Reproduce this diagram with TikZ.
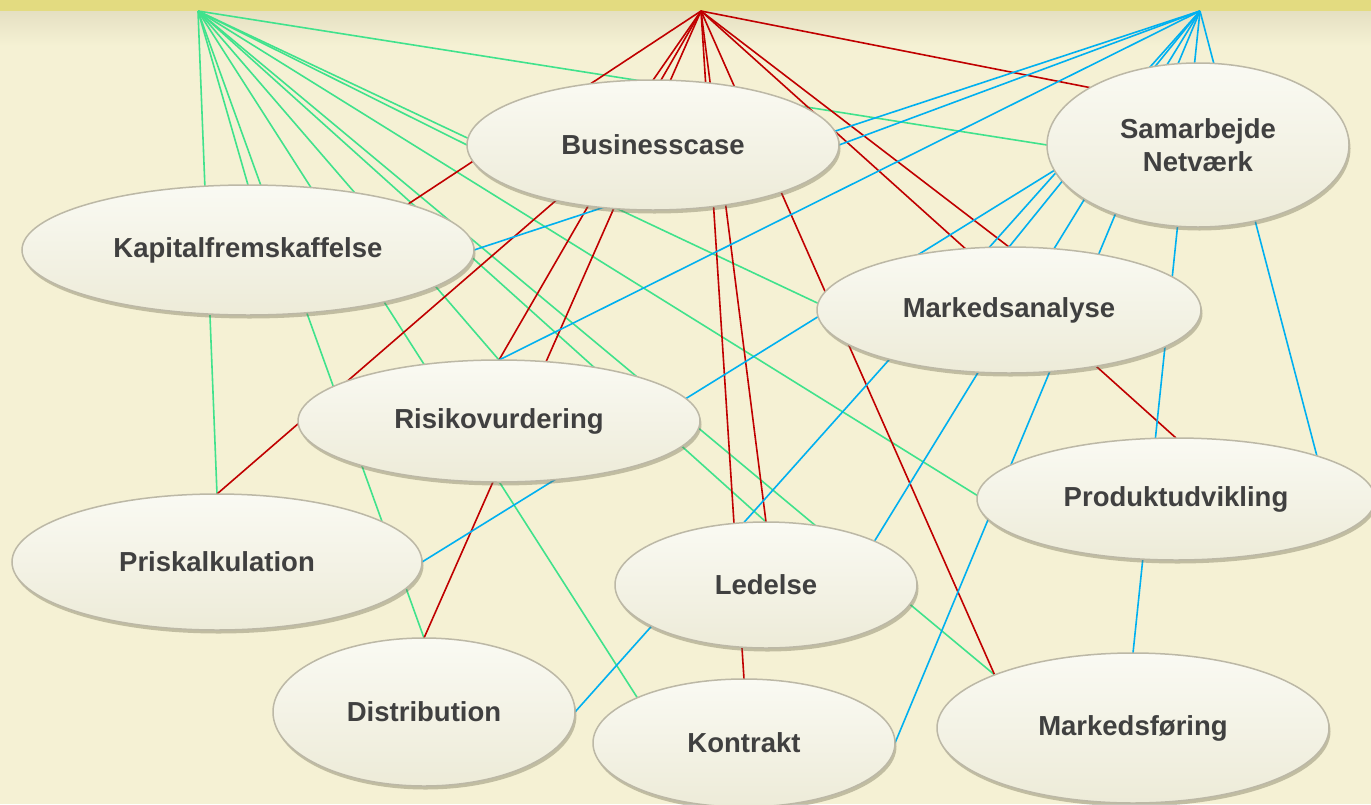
\documentclass[tikz,border=0pt]{standalone}
\usepackage{fontspec}
\setmainfont{Liberation Sans}
\usetikzlibrary{shapes.geometric,shadows}
\definecolor{bgc}{RGB}{245,241,212}
\definecolor{barc}{RGB}{227,219,128}
\definecolor{bandc}{RGB}{229,224,194}
\definecolor{gcol}{RGB}{64,226,140}
\definecolor{rcol}{RGB}{192,0,0}
\definecolor{bcol}{RGB}{0,176,240}
\definecolor{elltop}{RGB}{250,250,243}
\definecolor{ellbot}{RGB}{237,235,216}
\definecolor{ellborder}{RGB}{188,184,166}
\definecolor{shadc}{RGB}{110,105,80}
\definecolor{txtc}{RGB}{64,64,64}
\pgfdeclarelayer{bglayer}
\pgfdeclarelayer{linelayer}
\pgfsetlayers{bglayer,linelayer,main}
\tikzset{
  bubble/.style={ellipse, draw=ellborder, line width=1.5pt,
    top color=elltop, bottom color=ellbot,
    drop shadow={shadow xshift=1.5pt, shadow yshift=-3.5pt, opacity=0.38, fill=shadc},
    inner sep=0pt, outer sep=0pt, text=txtc, align=center,
    font=\bfseries\fontsize{27.5}{33}\selectfont},
  gconn/.style={draw=gcol, line width=1.6pt},
  rconn/.style={draw=rcol, line width=1.6pt},
  bconn/.style={draw=bcol, line width=1.6pt}
}
\begin{document}
\begin{tikzpicture}[x=1pt,y=-1pt]
\useasboundingbox (0,0) rectangle (1371,804);
\begin{pgfonlayer}{bglayer}
  \fill[bgc] (0,0) rectangle (1371,804);
  \shade[top color=bandc, bottom color=bgc] (0,11) rectangle (1371,46);
  \fill[barc] (0,0) rectangle (1371,11);
\end{pgfonlayer}

% hubs
\coordinate (hubG) at (198,11);
\coordinate (hubR) at (701,11);
\coordinate (hubB) at (1200,11);
\coordinate (rbend) at (590,171);

% ellipses
\node[bubble, minimum width=372pt, minimum height=130pt] (bc) at (653,145) {Businesscase};
\node[bubble, minimum width=302pt, minimum height=164pt] (sam) at (1198,145) {Samarbejde\\Netværk};
\node[bubble, minimum width=452pt, minimum height=130pt] (kap) at (248,250) {Kapitalfremskaffelse};
\node[bubble, minimum width=384pt, minimum height=126pt] (mark) at (1009,310) {Markedsanalyse};
\node[bubble, minimum width=402pt, minimum height=122pt] (ris) at (499,421) {Risikovurdering};
\node[bubble, minimum width=398pt, minimum height=122pt] (prod) at (1176,499) {Produktudvikling};
\node[bubble, minimum width=410pt, minimum height=136pt] (pris) at (217,562) {Priskalkulation};
\node[bubble, minimum width=302pt, minimum height=126pt] (led) at (766,585) {Ledelse};
\node[bubble, minimum width=302pt, minimum height=148pt] (dist) at (424,712) {Distribution};
\node[bubble, minimum width=302pt, minimum height=128pt] (kon) at (744,743) {Kontrakt};
\node[bubble, minimum width=392pt, minimum height=150pt] (mf) at (1133,728) {Markedsføring};

\begin{pgfonlayer}{linelayer}
  % green
  \draw[gconn] (hubG) -- (pris.north);
  \draw[gconn] (hubG) -- (dist.north);
  \draw[gconn] (hubG) -- (kap.north);
  \draw[gconn] (hubG) -- (kon.157);
  \draw[gconn] (hubG) -- (ris.north);
  \draw[gconn] (hubG) -- (led.north);
  \draw[gconn] (hubG) -- (mf.159);
  \draw[gconn] (hubG) -- (mark.178);
  \draw[gconn] (hubG) -- (prod.179);
  \draw[gconn] (hubG) -- (sam.west);
  \draw[gconn] (hubG) -- (bc.west);
  % red
  \draw[rconn] (hubR) -- (kap.16);
  \draw[rconn] (hubR) -- (rbend) -- (pris.north);
  \draw[rconn] (hubR) -- (ris.north);
  \draw[rconn] (hubR) -- (dist.north);
  \draw[rconn] (hubR) -- (kon.north);
  \draw[rconn] (hubR) -- (led.north);
  \draw[rconn] (hubR) -- (mf.159);
  \draw[rconn] (hubR) -- (prod.north);
  \draw[rconn] (hubR) -- (mark.north);
  \draw[rconn] (hubR) -- (sam.152);
  % blue
  \draw[bconn] (hubB) -- (ris.north);
  \draw[bconn] (hubB) -- (kap.east);
  \draw[bconn] (hubB) -- (bc.east);
  \draw[bconn] (sam.190) -- (pris.east);
  \draw[bconn] (hubB) -- (dist.east);
  \draw[bconn] (hubB) -- (mark.north);
  \draw[bconn] (hubB) -- (led.22);
  \draw[bconn] (hubB) -- (kon.east);
  \draw[bconn] (hubB) -- (mf.north);
  \draw[bconn] (hubB) -- (prod.17);
\end{pgfonlayer}
\end{tikzpicture}
\end{document}
